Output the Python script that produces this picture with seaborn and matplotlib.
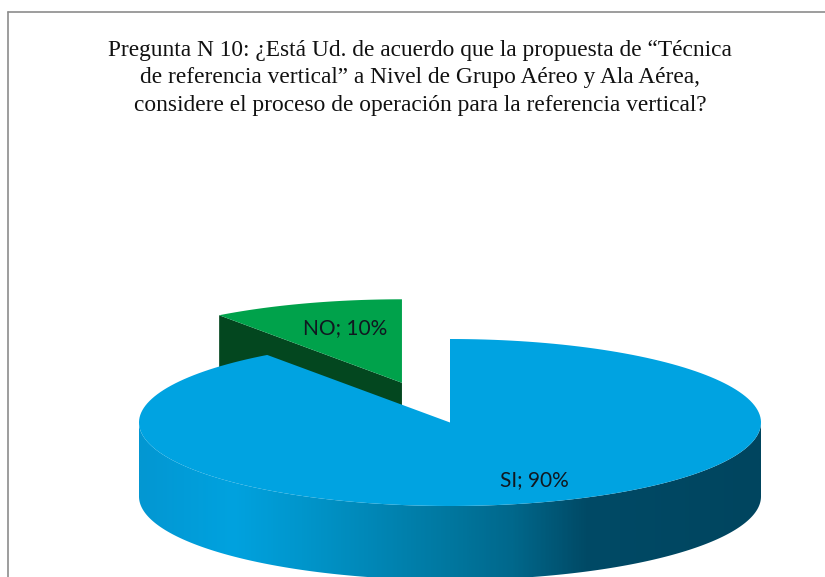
import numpy as np
import matplotlib.pyplot as plt
from matplotlib.colors import LinearSegmentedColormap
from matplotlib.patches import Polygon
import seaborn as sns

categories = ["SI", "NO"]
values = [90, 10]
title_lines = [
    "Pregunta N 10: ¿Está Ud. de acuerdo que la propuesta de “Técnica",
    "de referencia vertical” a Nivel de Grupo Aéreo y Ala Aérea,",
    "considere el proceso de operación para la referencia vertical?",
]
top_colors = ["#00A3E1", "#00A24B"]
dark_green = "#03471F"
side_stops = ["#0397D2", "#00A2DF", "#0096CC", "#00779F", "#00688C", "#004A66", "#00455F"]
side_pos = [0.0, 0.15, 0.26, 0.5, 0.6, 0.72, 1.0]

# pie geometry, in pixels of the 825x577 picture
cx, cy, rx, ry, depth = 450, 422.5, 311, 83.5, 74
explode_no = 0.5

sns.set_theme(style="white")
plt.rcParams["font.family"] = ["Liberation Serif", "DejaVu Sans"]

fig = plt.figure(figsize=(8.25, 5.77), dpi=100)
ax = fig.add_axes([0, 0, 1, 1])
ax.set_xlim(0, 825)
ax.set_ylim(577, 0)
ax.axis("off")


def rim(start, end, x0=cx, y0=cy, n=200):
    # angles in degrees clockwise from 12 o'clock
    t = np.radians(np.linspace(start, end, n))
    return np.column_stack([x0 + rx * np.sin(t), y0 - ry * np.cos(t)])


total = sum(values)
si_end = 360 * values[0] / total

# NO slice, pulled out along its bisector
mid = np.radians((si_end + 360) / 2)
gx = cx + explode_no * rx * np.sin(mid)
gy = cy - explode_no * ry * np.cos(mid)
g_rim = rim(si_end, 360, gx, gy)
left = g_rim[0]
ax.add_patch(Polygon([(gx, gy), left, left + [0, depth], (gx, gy + depth)],
                     fc=dark_green, ec="none", zorder=1))
ax.add_patch(Polygon(np.vstack([[(gx, gy)], g_rim]), fc=top_colors[1], ec="none", zorder=2))

# SI slice: side band with gradient, then the top
front = rim(90, 270)
band = np.vstack([front, front[::-1] + [0, depth]])
cmap = LinearSegmentedColormap.from_list("side", list(zip(side_pos, side_stops)))
grad = np.linspace(0, 1, 400).reshape(1, -1)
img = ax.imshow(grad, cmap=cmap, vmin=0, vmax=1, aspect="auto", zorder=3,
                extent=[cx - rx, cx + rx, 577, 300])
img.set_clip_path(Polygon(band, transform=ax.transData))
ax.set_xlim(0, 825)
ax.set_ylim(577, 0)
ax.add_patch(Polygon(np.vstack([[(cx, cy)], rim(0, si_end)]), fc=top_colors[0], ec="none", zorder=4))

ax.text(534, 480, f"{categories[0]}; {values[0]}%", family="Lato", fontsize=15,
        ha="center", va="center", color="#101820", zorder=6)
ax.text(345, 328, f"{categories[1]}; {values[1]}%", family="Lato", fontsize=15,
        ha="center", va="center", color="#101820", zorder=6)

for line, y in zip(title_lines, [56, 83.5, 111]):
    ax.text(420, y, line, fontsize=16.8, ha="center", va="baseline", color="#111111")

# outer frame of the chart
ax.plot([8, 8], [577, 11.5], color="#8C8C8C", lw=1.2)
ax.plot([8, 825], [11.5, 11.5], color="#8C8C8C", lw=1.2)

fig.savefig("out.png", dpi=100)
